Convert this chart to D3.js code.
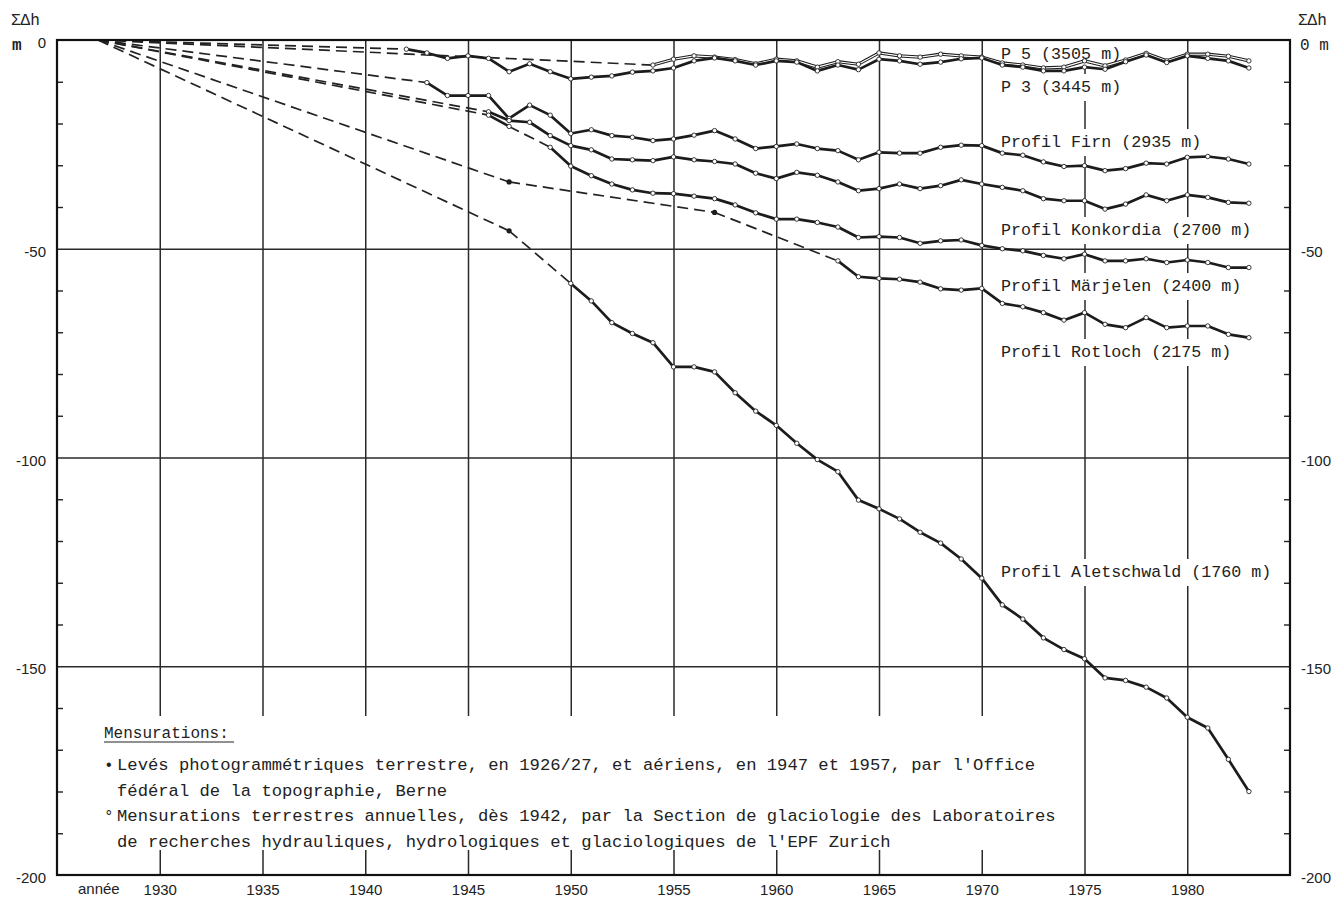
<!DOCTYPE html>
<html>
<head>
<meta charset="utf-8">
<script src="https://cdn.jsdelivr.net/npm/d3@7"></script>
<style>
  body { margin: 0; background: #fff; }
  svg { display: block; background: #fff; }
  .tick text { font-family: 'Liberation Sans', Arial, sans-serif; font-size: 15px; fill: #222; }
  .mono { font-family: 'Liberation Mono', 'Courier New', monospace; fill: #222; }
  .sans { font-family: 'Liberation Sans', Arial, sans-serif; fill: #222; }
</style>
</head>
<body>
<svg id="chart" width="1342" height="897"></svg>
<script>
// --- data ---------------------------------------------------------------
const yearTicks = [1930, 1935, 1940, 1945, 1950, 1955, 1960, 1965, 1970, 1975, 1980];
const majorTicks = [0, -50, -100, -150, -200];
const minorTicks = [-10, -20, -30, -40, -60, -70, -80, -90, -110, -120, -130, -140, -160, -170, -180, -190];

const seriesNames = [
  'P 5 (3505 m)',
  'P 3 (3445 m)',
  'Profil Firn (2935 m)',
  'Profil Konkordia (2700 m)',
  'Profil Märjelen (2400 m)',
  'Profil Rotloch (2175 m)',
  'Profil Aletschwald (1760 m)'
];

// photogrammetric surveys (1926/27, 1947, 1957) -> filled dots
const origin = [[1927, 0]];
const rotlochPhoto = [[1947, -34.0], [1957, -41.3]];
const aletschPhoto = [[1947, -45.7]];

// annual terrestrial measurements -> open circles
const p5Annual = [[1954, -6.0], [1955, -4.6], [1956, -3.8], [1957, -4.1], [1958, -4.7], [1959, -5.7], [1960, -4.6],
  [1961, -5.0], [1962, -6.5], [1963, -5.2], [1964, -5.8], [1965, -3.1], [1966, -3.8], [1967, -4.1], [1968, -3.4],
  [1969, -3.8], [1970, -4.1], [1971, -5.5], [1972, -6.0], [1973, -6.7], [1974, -6.5], [1975, -5.0], [1976, -6.2],
  [1977, -4.8], [1978, -3.2], [1979, -5.0], [1980, -3.4], [1981, -3.4], [1982, -3.9], [1983, -5.0]];

const p3Annual = [[1942, -2.2], [1943, -3.1], [1944, -4.4], [1945, -3.8], [1946, -4.4], [1947, -7.6], [1948, -5.7],
  [1949, -7.6], [1950, -9.3], [1951, -8.9], [1952, -8.6], [1953, -7.7], [1954, -7.4], [1955, -6.7], [1956, -5.0],
  [1957, -4.3], [1958, -5.0], [1959, -6.0], [1960, -5.0], [1961, -5.3], [1962, -7.4], [1963, -6.0], [1964, -7.1],
  [1965, -4.6], [1966, -5.0], [1967, -5.8], [1968, -5.3], [1969, -4.5], [1970, -4.3], [1971, -6.0], [1972, -6.5],
  [1973, -7.4], [1974, -7.4], [1975, -6.5], [1976, -7.0], [1977, -5.2], [1978, -3.6], [1979, -5.4], [1980, -3.8],
  [1981, -4.4], [1982, -5.0], [1983, -6.7]];

const firnAnnual = [[1943, -10.2], [1944, -13.3], [1945, -13.3], [1946, -13.3], [1947, -18.8], [1948, -15.6],
  [1949, -18.0], [1950, -22.4], [1951, -21.5], [1952, -22.9], [1953, -23.3], [1954, -24.1], [1955, -23.7],
  [1956, -22.8], [1957, -21.7], [1958, -23.7], [1959, -26.0], [1960, -25.5], [1961, -24.9], [1962, -26.0],
  [1963, -26.5], [1964, -28.7], [1965, -26.9], [1966, -27.1], [1967, -27.1], [1968, -25.7], [1969, -25.2],
  [1970, -25.3], [1971, -27.1], [1972, -27.6], [1973, -29.2], [1974, -30.3], [1975, -30.1], [1976, -31.3],
  [1977, -30.8], [1978, -29.5], [1979, -29.7], [1980, -28.1], [1981, -27.9], [1982, -28.5], [1983, -29.7]];

const konkordiaAnnual = [[1946, -17.2], [1947, -19.3], [1948, -19.7], [1949, -22.9], [1950, -25.3], [1951, -26.3],
  [1952, -28.5], [1953, -28.7], [1954, -28.9], [1955, -28.0], [1956, -28.7], [1957, -29.1], [1958, -29.7],
  [1959, -31.9], [1960, -33.2], [1961, -31.7], [1962, -32.4], [1963, -34.0], [1964, -36.1], [1965, -35.6],
  [1966, -34.5], [1967, -35.6], [1968, -34.9], [1969, -33.5], [1970, -34.5], [1971, -35.3], [1972, -36.1],
  [1973, -38.0], [1974, -38.5], [1975, -38.5], [1976, -40.5], [1977, -39.3], [1978, -37.1], [1979, -38.5],
  [1980, -37.1], [1981, -37.7], [1982, -38.9], [1983, -39.1]];

const marjelenAnnual = [[1946, -18.0], [1947, -20.7], [1949, -25.7], [1950, -30.2], [1951, -32.5], [1952, -34.5],
  [1953, -35.9], [1954, -36.7], [1955, -36.8], [1956, -37.4], [1957, -38.0], [1958, -39.5], [1959, -41.4],
  [1960, -42.9], [1961, -42.9], [1962, -43.7], [1963, -44.8], [1964, -47.3], [1965, -47.1], [1966, -47.3],
  [1967, -48.7], [1968, -48.1], [1969, -47.9], [1970, -49.2], [1971, -50.0], [1972, -50.5], [1973, -51.6],
  [1974, -52.4], [1975, -51.3], [1976, -52.9], [1977, -52.9], [1978, -52.4], [1979, -53.3], [1980, -52.7],
  [1981, -53.3], [1982, -54.5], [1983, -54.5]];

const rotlochAnnual = [[1963, -52.9], [1964, -56.7], [1965, -57.1], [1966, -57.3], [1967, -58.0], [1968, -59.6],
  [1969, -59.9], [1970, -59.5], [1971, -63.1], [1972, -63.9], [1973, -65.3], [1974, -67.1], [1975, -65.3],
  [1976, -68.1], [1977, -68.9], [1978, -66.5], [1979, -68.9], [1980, -68.5], [1981, -68.5], [1982, -70.5],
  [1983, -71.3]];

const aletschAnnual = [[1950, -58.3], [1951, -62.5], [1952, -67.7], [1953, -70.3], [1954, -72.5], [1955, -78.3],
  [1956, -78.3], [1957, -79.5], [1958, -84.5], [1959, -88.9], [1960, -92.3], [1961, -96.6], [1962, -100.5],
  [1963, -103.4], [1964, -110.2], [1965, -112.3], [1966, -114.7], [1967, -117.9], [1968, -120.5], [1969, -124.3],
  [1970, -128.9], [1971, -135.3], [1972, -138.7], [1973, -143.2], [1974, -146.0], [1975, -148.2], [1976, -152.8],
  [1977, -153.4], [1978, -155.0], [1979, -157.6], [1980, -162.2], [1981, -164.8], [1982, -172.3], [1983, -180.0]];

const photoSets = [origin, origin, origin, origin, origin, origin.concat(rotlochPhoto), origin.concat(aletschPhoto)];
const annualSets = [p5Annual, p3Annual, firnAnnual, konkordiaAnnual, marjelenAnnual, rotlochAnnual, aletschAnnual];

const legendTitle = 'Mensurations:';
const legendLines = [
  ['\u2022', "Levés photogrammétriques terrestre, en 1926/27, et aériens, en 1947 et 1957, par l'Office"],
  ['', 'fédéral de la topographie, Berne'],
  ['\u00b0', 'Mensurations terrestres annuelles, dès 1942, par la Section de glaciologie des Laboratoires'],
  ['', "de recherches hydrauliques, hydrologiques et glaciologiques de l'EPF Zurich"]
];

// --- layout -------------------------------------------------------------
const margin = { top: 40, right: 52, bottom: 22, left: 57 };
const width = 1342 - margin.left - margin.right;
const height = 897 - margin.top - margin.bottom;
const labelBaselines = [59, 92, 147, 235, 291, 357, 577];
const labelLeft = 1001;

const svg = d3.select('#chart');
const g = svg.append('g').attr('id', 'graph-g')
  .attr('transform', `translate(${margin.left}, ${margin.top})`);
// drawing order: grid, labels, note, series, axes, frame
const gridLayer = g.append('g');
const labelLayer = svg.append('g');
const legendLayer = svg.append('g');
const seriesLayer = svg.append('g').attr('transform', `translate(${margin.left}, ${margin.top})`);
const axisLayer = svg.append('g').attr('transform', `translate(${margin.left}, ${margin.top})`);

const xScale = d3.scaleLinear().domain([1925, 1985]).range([0, width]);
const yScale = d3.scaleLinear().domain([-200, 0]).range([height, 0]);

/**
 * Draws the vertical and horizontal grid lines of the diagram.
 */
function drawGrid() {
  gridLayer.append('g').attr('class', 'x grid')
    .call(d3.axisBottom(xScale).tickValues(yearTicks).tickSize(height).tickFormat(''))
    .call(sel => sel.select('.domain').remove())
    .selectAll('line').attr('stroke', '#2a2a2a').attr('stroke-width', 1.5);

  gridLayer.append('g').attr('class', 'y grid')
    .call(d3.axisLeft(yScale).tickValues([-50, -100, -150]).tickSize(-width).tickFormat(''))
    .call(sel => sel.select('.domain').remove())
    .selectAll('line').attr('stroke', '#2a2a2a').attr('stroke-width', 1.5);
}

/**
 * Draws the axes: the year labels below, the heights on both sides.
 */
function drawAxes() {
  axisLayer.append('g').attr('class', 'x axis')
    .attr('transform', `translate(0, ${height})`)
    .call(d3.axisBottom(xScale).tickValues(yearTicks).tickSize(0).tickPadding(9).tickFormat(d3.format('d')))
    .call(sel => sel.select('.domain').remove());

  const yLabel = d => (d === 0 ? '0' : String(d));
  axisLayer.append('g').attr('class', 'y axis left')
    .call(d3.axisLeft(yScale).tickValues(majorTicks).tickSize(0).tickPadding(11).tickFormat(yLabel))
    .call(sel => sel.select('.domain').remove())
    .selectAll('text').attr('dy', '0.5em');
  axisLayer.append('g').attr('class', 'y axis right')
    .attr('transform', `translate(${width}, 0)`)
    .call(d3.axisRight(yScale).tickValues(majorTicks).tickSize(0).tickPadding(11).tickFormat(d => (d === 0 ? '' : String(d))))
    .call(sel => sel.select('.domain').remove())
    .selectAll('text').attr('dy', '0.5em');

  // short inner ticks every 10 m
  axisLayer.append('g').attr('class', 'y minor left')
    .call(d3.axisLeft(yScale).tickValues(minorTicks).tickSize(-6).tickFormat(''))
    .call(sel => sel.select('.domain').remove())
    .selectAll('line').attr('stroke', '#222').attr('stroke-width', 1.4);
  axisLayer.append('g').attr('class', 'y minor right')
    .attr('transform', `translate(${width}, 0)`)
    .call(d3.axisRight(yScale).tickValues(minorTicks).tickSize(-6).tickFormat(''))
    .call(sel => sel.select('.domain').remove())
    .selectAll('line').attr('stroke', '#222').attr('stroke-width', 1.4);

  svg.append('text').attr('class', 'mono').attr('x', 11).attr('y', 25).attr('font-size', 16).text('\u03a3\u0394h');
  svg.append('text').attr('class', 'mono').attr('x', 12).attr('y', 50).attr('font-size', 16).attr('font-weight', 'bold').text('m');
  svg.append('text').attr('class', 'mono').attr('x', 1298).attr('y', 25).attr('font-size', 16).text('\u03a3\u0394h');
  svg.append('text').attr('class', 'mono').attr('x', 1300).attr('y', 50).attr('font-size', 16).text('0 m');
  svg.append('text').attr('class', 'sans').attr('x', 78).attr('y', 894).attr('font-size', 15).text('année');
}

/**
 * Draws each series label on a white patch that hides the grid behind it.
 */
function drawLabels() {
  seriesNames.forEach((name, i) => {
    const lg = labelLayer.append('g').attr('class', 'label');
    const t = lg.append('text').attr('class', 'mono')
      .attr('x', labelLeft).attr('y', labelBaselines[i])
      .attr('font-size', 16.7)
      .text(name);
    const b = t.node().getBBox();
    lg.insert('rect', 'text')
      .attr('x', b.x - 4).attr('y', b.y - 4)
      .attr('width', b.width + 8).attr('height', b.height + 8)
      .attr('fill', '#fff');
  });
}

/**
 * Joins photogrammetric and annual points, then draws dashed links across gaps
 * and solid lines through consecutive years.
 */
function drawSeries() {
  const line = d3.line().x(d => xScale(d[0])).y(d => yScale(d[1]));

  annualSets.forEach((annual, i) => {
    const layer = seriesLayer.append('g').attr('class', 'serie');
    const pts = photoSets[i].concat(annual).sort((a, b) => a[0] - b[0]);
    const runs = [];
    let run = [pts[0]];
    for (let k = 1; k < pts.length; k++) {
      if (pts[k][0] - pts[k - 1][0] > 1) {
        layer.append('path')
          .attr('d', line([pts[k - 1], pts[k]]))
          .attr('fill', 'none').attr('stroke', '#222')
          .attr('stroke-width', 1.7).attr('stroke-dasharray', '11,6');
        runs.push(run);
        run = [pts[k]];
      } else {
        run.push(pts[k]);
      }
    }
    runs.push(run);

    runs.filter(r => r.length > 1).forEach(r => {
      layer.append('path')
        .attr('d', line(r))
        .attr('fill', 'none').attr('stroke', '#1c1c1c')
        .attr('stroke-width', i === 0 ? 3.2 : 2.7)
        .attr('stroke-linejoin', 'round');
      if (i === 0) {
        // P 5 is inked as a hollow line
        layer.append('path')
          .attr('d', line(r))
          .attr('fill', 'none').attr('stroke', '#fff')
          .attr('stroke-width', 1.1).attr('stroke-linejoin', 'round');
      }
    });

    layer.selectAll(null)
      .data(annual)
      .enter()
      .append('circle')
      .attr('cx', d => xScale(d[0])).attr('cy', d => yScale(d[1]))
      .attr('r', 2.2)
      .attr('fill', '#fff').attr('stroke', '#222').attr('stroke-width', 0.9);

    layer.selectAll(null)
      .data(photoSets[i].filter(d => d[0] > 1927))
      .enter()
      .append('circle')
      .attr('cx', d => xScale(d[0])).attr('cy', d => yScale(d[1]))
      .attr('r', 2.6)
      .attr('fill', '#1c1c1c');
  });
}

/**
 * Draws the boxed note on the measurements in the lower left.
 */
function drawLegend() {
  legendLayer.append('rect').attr('x', 95).attr('y', 716).attr('width', 975).attr('height', 134).attr('fill', '#fff');
  legendLayer.append('text').attr('class', 'mono').attr('x', 104).attr('y', 738)
    .attr('font-size', 16).text(legendTitle);
  legendLayer.append('line').attr('x1', 104).attr('x2', 234).attr('y1', 742).attr('y2', 742)
    .attr('stroke', '#222').attr('stroke-width', 1.2);
  legendLines.forEach((row, i) => {
    const yy = 770 + i * 25.5;
    legendLayer.append('text').attr('class', 'mono').attr('x', 104).attr('y', yy)
      .attr('font-size', 16).text(row[0]);
    legendLayer.append('text').attr('class', 'mono').attr('x', 117).attr('y', yy)
      .attr('font-size', 17.2).text(row[1]);
  });
}

/**
 * Draws the heavy frame around the plotting area.
 */
function drawFrame() {
  axisLayer.append('rect')
    .attr('x', 0).attr('y', 0).attr('width', width).attr('height', height)
    .attr('fill', 'none').attr('stroke', '#111').attr('stroke-width', 2.2);
}

drawGrid();
drawLabels();
drawLegend();
drawSeries();
drawAxes();
drawFrame();
</script>
</body>
</html>
